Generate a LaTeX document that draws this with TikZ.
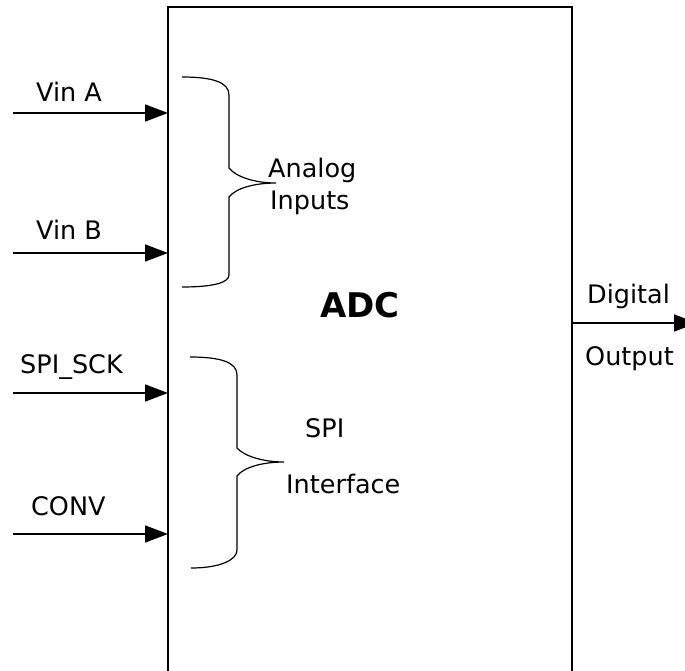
\documentclass[tikz,border=0pt]{standalone}
\usepackage{fontspec}
\setmainfont{DejaVu Sans}
\usetikzlibrary{arrows.meta}
\begin{document}
\begin{tikzpicture}[x=1pt,y=-1pt,
  lbl/.style={anchor=base west,inner sep=0pt,font=\fontsize{25.5}{30}\selectfont},
  sig/.style={line width=1.5pt,-{Triangle[length=23pt,width=17pt]}},
  brace/.style={line width=1.2pt},
  boxline/.style={line width=1.4pt}]
\useasboundingbox[fill=white] (0,0) rectangle (685,671);
% ADC block (bottom edge lies below the picture)
\draw[boxline] (168,690) -- (168,7) -- (572,7) -- (572,690);
\node[anchor=base,inner sep=0pt,font=\fontsize{34}{40}\selectfont\bfseries] (adc) at (360,317) {ADC};
% input pins
\coordinate (ina) at (13,113);   \coordinate (pa) at (168,113);
\coordinate (inb) at (13,253);   \coordinate (pb) at (168,253);
\coordinate (ins) at (13,393);   \coordinate (ps) at (168,393);
\coordinate (inc) at (13,534);   \coordinate (pc) at (168,534);
\draw[sig] (ina) -- (pa);
\draw[sig] (inb) -- (pb);
\draw[sig] (ins) -- (ps);
\draw[sig] (inc) -- (pc);
\node[lbl] (la) at (36,102) {Vin A};
\node[lbl] (lb) at (36,240) {Vin B};
\node[lbl] (ls) at (20,373) {SPI\_SCK};
\node[lbl] (lc) at (31,515) {CONV};
% output
\coordinate (po) at (572,323); \coordinate (out) at (697,323);
\draw[sig] (po) -- (out);
\node[lbl] (ld) at (587,303) {Digital};
\node[lbl] (lo) at (585,365) {Output};
% brace 1
\draw[brace] (182,77) .. controls (212,77) and (229,82) .. (229,95) -- (229,168)
  .. controls (236,177) and (255,183) .. (276,183)
  .. controls (255,183) and (236,188) .. (229,197) -- (229,275)
  .. controls (229,283) and (212,287) .. (182,287);
\node[lbl] (lan) at (268,178) {Analog};
\node[lbl] (lin) at (270,210) {Inputs};
% brace 2
\draw[brace] (190,357) .. controls (220,357) and (237,362) .. (237,375) -- (237,448)
  .. controls (244,456) and (263,462) .. (284,462)
  .. controls (263,462) and (244,467) .. (237,476) -- (237,550)
  .. controls (237,560) and (220,568) .. (191,568);
\node[lbl] (lspi) at (305,437) {SPI};
\node[lbl] (lif) at (286,493) {Interface};
\end{tikzpicture}
\end{document}
